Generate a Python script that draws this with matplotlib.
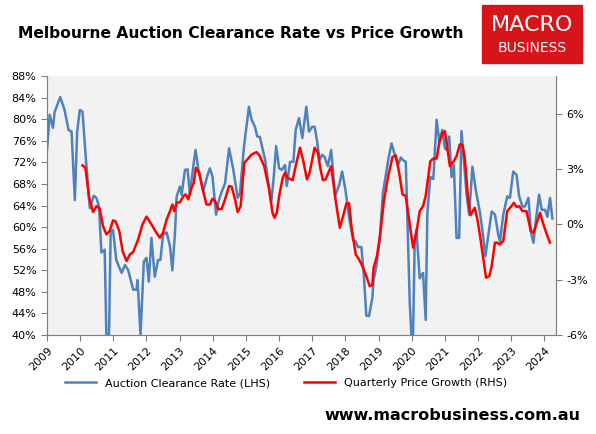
import matplotlib.pyplot as plt
import matplotlib.patches as patches
from matplotlib.ticker import FuncFormatter

# auction clearance rate (LHS, %), x as decimal years
acr_x = [2009.00, 2009.08, 2009.18, 2009.23, 2009.40, 2009.53, 2009.65, 2009.74, 2009.84, 2009.91,
         2009.99, 2010.07, 2010.19, 2010.29, 2010.41, 2010.49, 2010.57, 2010.64, 2010.74, 2010.79,
         2010.87, 2010.92, 2010.99, 2011.09, 2011.25, 2011.35, 2011.45, 2011.60, 2011.70, 2011.73,
         2011.82, 2011.92, 2012.00, 2012.07, 2012.15, 2012.25, 2012.35, 2012.42, 2012.50, 2012.61,
         2012.71, 2012.78, 2012.86, 2012.91, 2013.01, 2013.06, 2013.16, 2013.24, 2013.31, 2013.41,
         2013.48, 2013.56, 2013.71, 2013.83, 2013.91, 2013.99, 2014.10, 2014.17, 2014.27, 2014.37,
         2014.49, 2014.62, 2014.75, 2014.82, 2014.94, 2015.09, 2015.17, 2015.27, 2015.34, 2015.42,
         2015.58, 2015.76, 2015.83, 2015.91, 2016.00, 2016.08, 2016.18, 2016.23, 2016.33, 2016.43,
         2016.50, 2016.60,
         2016.70, 2016.82, 2016.90, 2017.00, 2017.07, 2017.14, 2017.22, 2017.30, 2017.37, 2017.47,
         2017.57, 2017.69, 2017.81, 2017.90, 2018.00, 2018.11, 2018.23, 2018.31, 2018.38, 2018.48,
         2018.55, 2018.63, 2018.71, 2018.81, 2018.85, 2018.93, 2019.03, 2019.13, 2019.29, 2019.39,
         2019.49, 2019.59, 2019.67, 2019.74, 2019.82, 2019.94, 2019.99, 2020.04, 2020.09, 2020.14,
         2020.24, 2020.34, 2020.42, 2020.47, 2020.56, 2020.65, 2020.75, 2020.83, 2020.92, 2021.00,
         2021.05, 2021.13, 2021.20, 2021.27, 2021.35, 2021.43, 2021.50, 2021.57, 2021.65, 2021.73,
         2021.83, 2021.93, 2022.06, 2022.14, 2022.22, 2022.31, 2022.41, 2022.51, 2022.61, 2022.66,
         2022.76, 2022.88, 2022.96, 2023.06, 2023.16, 2023.24, 2023.34, 2023.41, 2023.52, 2023.59,
         2023.67, 2023.75, 2023.84, 2023.92, 2024.02, 2024.09, 2024.17, 2024.24]
acr = [74.3, 80.8, 78.4, 81.3, 84.1, 81.7, 78.0, 77.7, 65.0, 77.7,
       81.7, 81.4, 71.2, 63.5, 65.8, 65.4, 63.8, 55.3, 55.8, 40.0,
       40.0, 59.2, 59.5, 53.9, 51.5, 53.0, 52.0, 48.4, 48.4, 50.2,
       40.0, 53.6, 54.3, 49.9, 58.0, 50.8, 53.9, 53.9, 58.6, 59.0,
       56.4, 52.0, 59.0, 65.7, 67.5, 66.0, 70.6, 70.7, 66.0, 71.2,
       74.3, 70.9, 66.6, 69.4, 70.9, 69.4, 62.3, 64.7, 66.6, 68.1,
       74.6, 70.6, 65.4, 66.3, 74.9, 82.3, 79.9, 78.6, 76.8, 76.7,
       72.4, 64.5, 68.7, 75.0, 70.9, 70.6, 71.5, 67.6, 72.1, 72.1,
       78.0, 80.2,
       76.5, 82.3, 77.7, 78.6, 78.6, 76.1, 72.4, 73.4, 73.0, 71.3,
       74.3, 65.7, 67.8, 70.3, 66.9, 61.9, 57.6, 57.3, 56.3, 56.3,
       51.5, 43.6, 43.5, 46.8, 50.2, 52.7, 57.6, 66.3, 72.4, 75.5,
       73.4, 71.5, 72.9, 72.4, 72.1, 45.9, 40.0, 40.0, 57.6, 59.5,
       50.5, 51.5, 42.8, 62.6, 69.3, 68.9, 79.9, 75.8, 78.0, 74.6,
       74.3, 76.8, 69.3, 71.5, 58.0, 58.0, 77.8, 72.4, 66.3, 62.3,
       71.2, 66.9, 62.6, 58.9, 54.6, 58.6, 62.9, 62.3, 58.6, 57.3,
       62.3, 65.7, 65.4, 70.3, 69.7, 65.7, 63.8, 63.8, 65.4, 59.2,
       57.1, 61.6, 66.0, 63.2, 63.2, 61.9, 65.4, 61.6]

# quarterly price growth (RHS, %)
pg_x = [2010.07, 2010.16, 2010.27, 2010.39, 2010.49, 2010.59, 2010.69, 2010.79, 2010.89, 2010.99,
        2011.07, 2011.18, 2011.28, 2011.40, 2011.50, 2011.60, 2011.75, 2011.88, 2012.00, 2012.15,
        2012.28, 2012.40, 2012.50, 2012.61, 2012.71, 2012.78, 2012.84, 2012.91, 2013.01, 2013.11,
        2013.18, 2013.26, 2013.36, 2013.43, 2013.49, 2013.59, 2013.71, 2013.81, 2013.91, 2013.99,
        2014.07, 2014.17, 2014.27, 2014.37, 2014.49, 2014.57, 2014.67, 2014.75, 2014.84, 2014.95,
        2015.04, 2015.17, 2015.32, 2015.42, 2015.55, 2015.70, 2015.80, 2015.86, 2015.93, 2016.01,
        2016.11, 2016.18, 2016.25, 2016.41, 2016.51, 2016.63,
        2016.72, 2016.84, 2016.92, 2017.07, 2017.17, 2017.24, 2017.32, 2017.40, 2017.57, 2017.70,
        2017.83, 2017.93, 2018.03, 2018.11, 2018.18, 2018.31, 2018.41, 2018.51, 2018.63, 2018.73,
        2018.81, 2018.85, 2018.95, 2019.05, 2019.16, 2019.29, 2019.42, 2019.52, 2019.62, 2019.72,
        2019.82, 2019.89, 2020.04, 2020.14, 2020.24, 2020.34, 2020.42, 2020.56, 2020.65, 2020.75,
        2020.83, 2020.93, 2021.00, 2021.05, 2021.15, 2021.27, 2021.35, 2021.45, 2021.53, 2021.60,
        2021.70, 2021.77, 2021.90, 2021.98, 2022.06, 2022.16, 2022.24, 2022.34, 2022.41, 2022.51,
        2022.56, 2022.66, 2022.76, 2022.88, 2023.01, 2023.08, 2023.16, 2023.24, 2023.34, 2023.46,
        2023.59, 2023.67, 2023.77, 2023.87, 2023.97, 2024.09, 2024.17]
pg = [3.20, 3.07, 1.45, 0.67, 0.99, 0.85, -0.09, -0.54, -0.36, 0.22,
      0.16, -0.36, -1.45, -1.99, -1.63, -1.50, -0.81, 0.00, 0.42, 0.00,
      -0.40, -0.72, -0.45, 0.27, 0.72, 1.08, 0.72, 1.18, 1.20, 1.53,
      1.63, 1.36, 1.99, 2.26, 3.07, 2.80, 1.80, 1.08, 1.08, 1.39,
      1.26, 0.81, 0.85, 1.36, 2.08, 2.04, 1.36, 0.67, 0.99, 3.34,
      3.52, 3.79, 3.92, 3.70, 3.16, 1.90, 0.63, 0.36, 0.63, 1.63,
      2.53, 2.80, 2.53, 2.40, 3.25, 4.16,
      3.52, 2.44, 2.80, 4.16, 3.89, 3.07, 2.40, 2.44, 3.16, 1.36,
      -0.18, 0.45, 1.14, 1.14, -0.09, -1.63, -1.90, -2.26, -2.80, -3.34,
      -3.30, -2.35, -1.72, -0.54, 1.26, 2.62, 3.66, 3.74, 2.80, 1.63,
      1.54, 0.63, -1.26, -0.45, 0.72, 0.99, 1.54, 3.43, 3.57, 3.57,
      4.43, 4.97, 5.06, 4.43, 3.16, 3.43, 3.70, 4.34, 4.29, 3.61,
      1.36, 0.50, 0.90, 0.27, -0.63, -1.90, -2.89, -2.80, -2.26, -0.99,
      -0.99, -1.08, -0.90, 0.72, 0.99, 1.17, 0.95, 0.99, 0.72, 0.72,
      -0.36, -0.45, 0.09, 0.63, 0.00, -0.63, -0.99]

years = list(range(2009, 2025))
left_ticks = list(range(40, 89, 4))
right_ticks = [-6, -3, 0, 3, 6]

fig = plt.figure(figsize=(5.96, 4.34), dpi=100)
ax = fig.add_axes([47/596, 1 - 335/434, 509/596, 259/434])
ax.set_facecolor('#f2f2f2')
ax.plot(acr_x, acr, color='#4f81bd', lw=1.8, label='Auction Clearance Rate (LHS)')
ax.set_xlim(2009, 2024.35)
ax.set_ylim(40, 88)
ax.set_yticks(left_ticks)
ax.yaxis.set_major_formatter(FuncFormatter(lambda v, p: f'{v:.0f}%'))
ax.set_xticks(years)
ax.set_xticklabels([str(y) for y in years], rotation=45, ha='right', rotation_mode='anchor')

ax2 = ax.twinx()
ax2.plot(pg_x, pg, color='#ff0000', lw=1.8, label='Quarterly Price Growth (RHS)')
ax2.set_ylim(-6, 8.05)
ax2.set_yticks(right_ticks)
ax2.yaxis.set_major_formatter(FuncFormatter(lambda v, p: f'{v:.0f}%'))

for a in (ax, ax2):
    a.tick_params(labelsize=8, color='#808080', length=4)
    a.spines['top'].set_visible(False)
    for s in ('left', 'right', 'bottom'):
        a.spines[s].set_color('#808080')

h1, l1 = ax.get_legend_handles_labels()
h2, l2 = ax2.get_legend_handles_labels()
fig.legend(h1 + h2, l1 + l2, loc='center', bbox_to_anchor=(0.48, 1 - 383/434),
           ncol=2, frameon=False, fontsize=8, handlelength=2.8, columnspacing=3)

fig.text(18/596, 1 - 33/434, 'Melbourne Auction Clearance Rate vs Price Growth',
         fontsize=11.2, fontweight='bold', va='center')
fig.text(580/596, 1 - 415/434, 'www.macrobusiness.com.au', fontsize=11.5,
         fontweight='bold', ha='right', va='center')

# logo box
fig.patches.append(patches.Rectangle((482/596, 1 - 63/434), 100/596, 58/434,
                                     transform=fig.transFigure, color='#d7141a'))
fig.text(532/596, 1 - 25/434, 'MACRO', color='white', fontsize=16, ha='center', va='center')
fig.text(532/596, 1 - 48/434, 'BUSINESS', color='white', fontsize=10, ha='center', va='center')

fig.savefig('out.png', dpi=100)
